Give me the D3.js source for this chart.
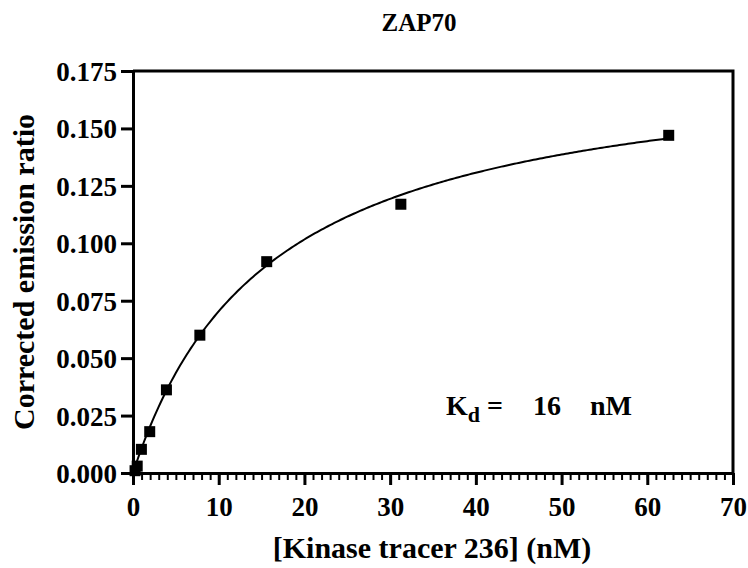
<!DOCTYPE html>
<html>
<head>
<meta charset="utf-8">
<script src="https://cdn.jsdelivr.net/npm/d3@7"></script>
<style>
  body { margin: 0; background: #fff; }
  svg text { font-family: "Liberation Serif", "Times New Roman", serif !important; font-weight: bold; fill: #000; }
</style>
</head>
<body>
<div id="chart"></div>
<script>
// Messepunkter: tracer-koncentration (nM) og korrigeret emission ratio
const tracerConc = [0.24, 0.49, 0.98, 1.95, 3.9, 7.8, 15.6, 31.25, 62.5];
const emissionRatio = [0.001, 0.003, 0.0103, 0.018, 0.0362, 0.060, 0.092, 0.117, 0.147];

// Fit-parametre (one site binding)
const kd = 16;
const bmax = 0.183;

const xTicks = [0, 10, 20, 30, 40, 50, 60, 70];
const yTicks = [0, 0.025, 0.05, 0.075, 0.1, 0.125, 0.15, 0.175];

const serif = "'Liberation Serif', 'Times New Roman', serif";

let margin = { top: 71, right: 15, bottom: 95, left: 133 },
  width = 748 - margin.left - margin.right,
  height = 568 - margin.top - margin.bottom;

let svg = d3
  .select("#chart")
  .append("svg")
  .attr("width", 748)
  .attr("height", 568);

let g = svg
  .append("g")
  .attr("transform", "translate(" + margin.left + "," + margin.top + ")");

let x = d3.scaleLinear().domain([0, 70]).range([0, width]);
let y = d3.scaleLinear().domain([0, 0.175]).range([height, 0]);

// Ramme (top og højre)
g.append("path")
  .attr("d", "M0,0H" + width + "V" + height)
  .attr("fill", "none")
  .attr("stroke", "#000")
  .attr("stroke-width", 3);

// X-akse, minor ticks for hver enhed
g.append("g")
  .attr("transform", "translate(0," + height + ")")
  .call(d3.axisBottom(x).tickValues(d3.range(0, 71, 1)).tickSize(7).tickFormat(""))
  .call((a) => a.select(".domain").remove())
  .selectAll("line")
  .attr("stroke-width", 2);

let xAxis = g
  .append("g")
  .attr("transform", "translate(0," + height + ")")
  .call(d3.axisBottom(x).tickValues(xTicks).tickSize(12).tickSizeOuter(0).tickPadding(12));
xAxis.attr("font-family", serif);
xAxis.select(".domain").attr("stroke-width", 3);
xAxis.selectAll("line").attr("stroke-width", 3);
xAxis.selectAll("text").style("font-size", "27px").style("font-family", serif);

// Y-akse
let yAxis = g
  .append("g")
  .call(d3.axisLeft(y).tickValues(yTicks).tickSize(12).tickSizeOuter(0).tickPadding(4).tickFormat(d3.format(".3f")));
yAxis.attr("font-family", serif);
yAxis.select(".domain").attr("stroke-width", 3);
yAxis.selectAll("line").attr("stroke-width", 3);
yAxis.selectAll("text").style("font-size", "27px").style("font-family", serif).attr("dy", "0.35em");

// Fit-kurve
let curveX = d3.range(tracerConc[0], 62.5 + 0.01, 0.25);
let line = d3
  .line()
  .x((d) => x(d))
  .y((d) => y((bmax * d) / (kd + d)));

g.append("path")
  .datum(curveX)
  .attr("d", line)
  .attr("fill", "none")
  .attr("stroke", "#000")
  .attr("stroke-width", 2);

// Datapunkter som firkanter
const sq = 11;
g.selectAll("rect.pt")
  .data(tracerConc)
  .enter()
  .append("rect")
  .attr("class", "pt")
  .attr("x", (d) => x(d) - sq / 2)
  .attr("y", (d, i) => y(emissionRatio[i]) - sq / 2)
  .attr("width", sq)
  .attr("height", sq)
  .attr("fill", "#000");

// Titel og aksetitler
svg.append("text")
  .attr("x", 419)
  .attr("y", 31)
  .attr("text-anchor", "middle")
  .style("font-size", "25px")
  .text("ZAP70");

svg.append("text")
  .attr("x", 432)
  .attr("y", 558)
  .attr("text-anchor", "middle")
  .style("font-size", "30px")
  .text("[Kinase tracer 236] (nM)");

svg.append("text")
  .attr("transform", "translate(34," + (margin.top + height / 2) + ")rotate(-90)")
  .attr("text-anchor", "middle")
  .style("font-size", "30px")
  .text("Corrected emission ratio");

// Kd-tekst
let kdText = svg.append("text")
  .attr("x", 446)
  .attr("y", 415)
  .style("font-size", "28px");
kdText.append("tspan").text("K");
kdText.append("tspan").attr("dy", 7).style("font-size", "22px").text("d");
kdText.append("tspan").attr("dy", -7).text(" =");
svg.append("text").attr("x", 533).attr("y", 415).style("font-size", "28px").text(kd);
svg.append("text").attr("x", 590).attr("y", 415).style("font-size", "28px").text("nM");
</script>
</body>
</html>
